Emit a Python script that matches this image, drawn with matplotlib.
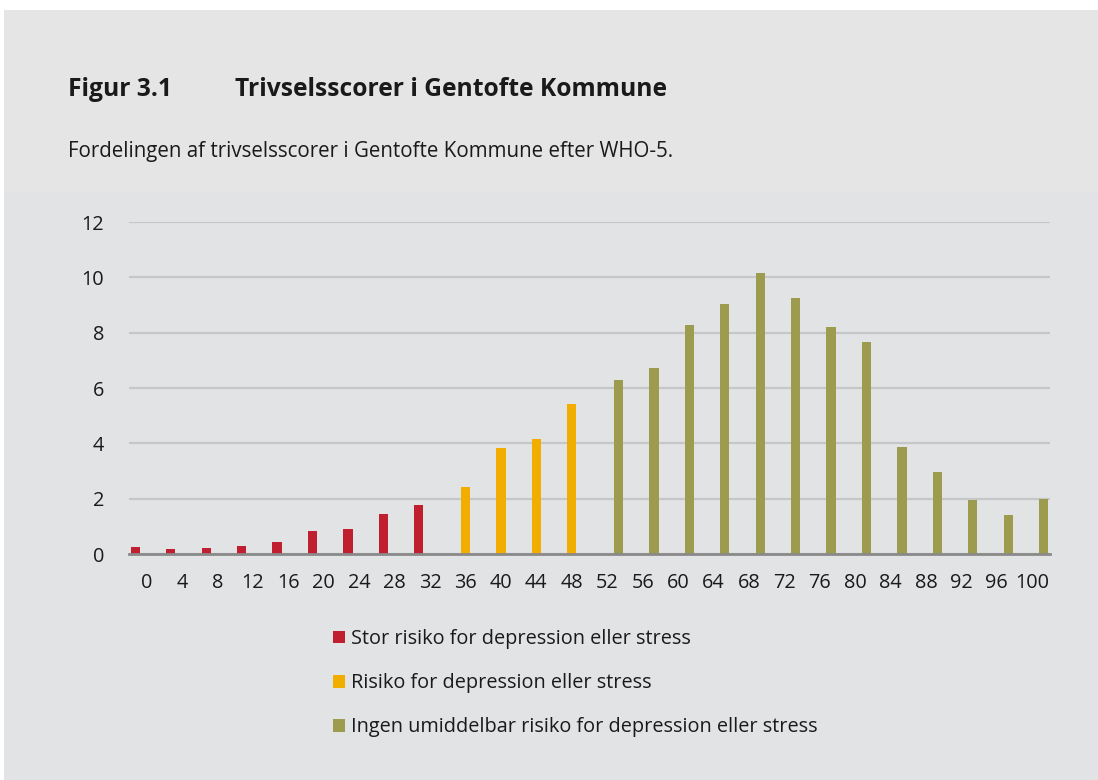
import matplotlib
matplotlib.use("Agg")
import matplotlib.pyplot as plt
from matplotlib.patches import Rectangle, Patch

plt.rcParams['font.family'] = ['Open Sans', 'DejaVu Sans']

scores = [0, 4, 8, 12, 16, 20, 24, 28, 32, 36, 40, 44, 48, 52, 56, 60, 64, 68, 72, 76, 80, 84, 88, 92, 96, 100]
stor_risiko = [0.24, 0.17, 0.20, 0.29, 0.43, 0.83, 0.90, 1.46, 1.78] + [0] * 17
risiko = [0] * 9 + [2.43, 3.82, 4.14, 5.43] + [0] * 13
ingen_risiko = [0] * 13 + [6.29, 6.71, 8.29, 9.04, 10.14, 9.24, 8.20, 7.67, 3.88, 2.96, 1.96, 1.40, 1.98]
series_labels = ["Stor risiko for depression eller stress",
                 "Risiko for depression eller stress",
                 "Ingen umiddelbar risiko for depression eller stress"]
colors = ["#c01f30", "#f2ae00", "#9c9b4e"]
yticks = [0, 2, 4, 6, 8, 10, 12]

W, H = 1098, 780
fig = plt.figure(figsize=(W / 100, H / 100), dpi=100)
fig.patch.set_facecolor("white")
# background panels
fig.add_artist(Rectangle((4 / W, 1 - 192 / H), 1, (192 - 10) / H, transform=fig.transFigure,
                         facecolor="#e5e5e5", edgecolor="none", zorder=0))
fig.add_artist(Rectangle((4 / W, 0), 1, 1 - 192 / H, transform=fig.transFigure,
                         facecolor="#e2e3e5", edgecolor="none", zorder=0))

fig.text(68 / W, 1 - 89 / H, "Figur 3.1", fontsize=17.7, fontweight="bold", color="#1a1a1a", va="center")
fig.text(235 / W, 1 - 89 / H, "Trivselsscorer i Gentofte Kommune", fontsize=17.7, fontweight="bold",
         color="#1a1a1a", va="center")
fig.text(68 / W, 1 - 151 / H, "Fordelingen af trivselsscorer i Gentofte Kommune efter WHO-5.",
         fontsize=14.8, color="#1a1a1a", va="center")

ax = fig.add_axes([129 / W, 1 - 554 / H, (1050 - 129) / W, (554 - 222) / H])
ax.set_facecolor("none")
n = len(scores)
xs = list(range(n))
offset = 0.32
width = 0.26
handles = []
for k, (vals, col, lab) in enumerate(zip([stor_risiko, risiko, ingen_risiko], colors, series_labels)):
    ax.bar([x + (k - 1) * offset for x in xs], vals, width=width, color=col, zorder=3, label=lab)
    handles.append(Patch(facecolor=col, edgecolor="none", label=lab))

ax.set_xlim(-0.5, n - 0.5)
ax.set_ylim(0, 12)
ax.set_yticks(yticks)
ax.set_xticks(xs)
ax.set_xticklabels([str(s) for s in scores])
ax.tick_params(axis="both", length=0, labelsize=14.3, colors="#1a1a1a")
ax.tick_params(axis="y", pad=18)
ax.tick_params(axis="x", pad=14)
ax.grid(axis="y", color="#c6c7c9", linewidth=1.6, zorder=0)
for s in ["top", "right", "left"]:
    ax.spines[s].set_visible(False)
ax.spines["bottom"].set_color("#8a8a8a")
ax.spines["bottom"].set_linewidth(2)
ax.spines["bottom"].set_zorder(4)

fig.legend(handles=handles, loc="upper left", bbox_to_anchor=(333 / W, 1 - 629 / H),
           frameon=False, fontsize=14.3, handlelength=0.6, handleheight=0.6,
           handletextpad=0.3, labelspacing=1.22, borderpad=0, borderaxespad=0,
           labelcolor="#1a1a1a")

fig.savefig("out.png", dpi=100, facecolor=fig.get_facecolor())
